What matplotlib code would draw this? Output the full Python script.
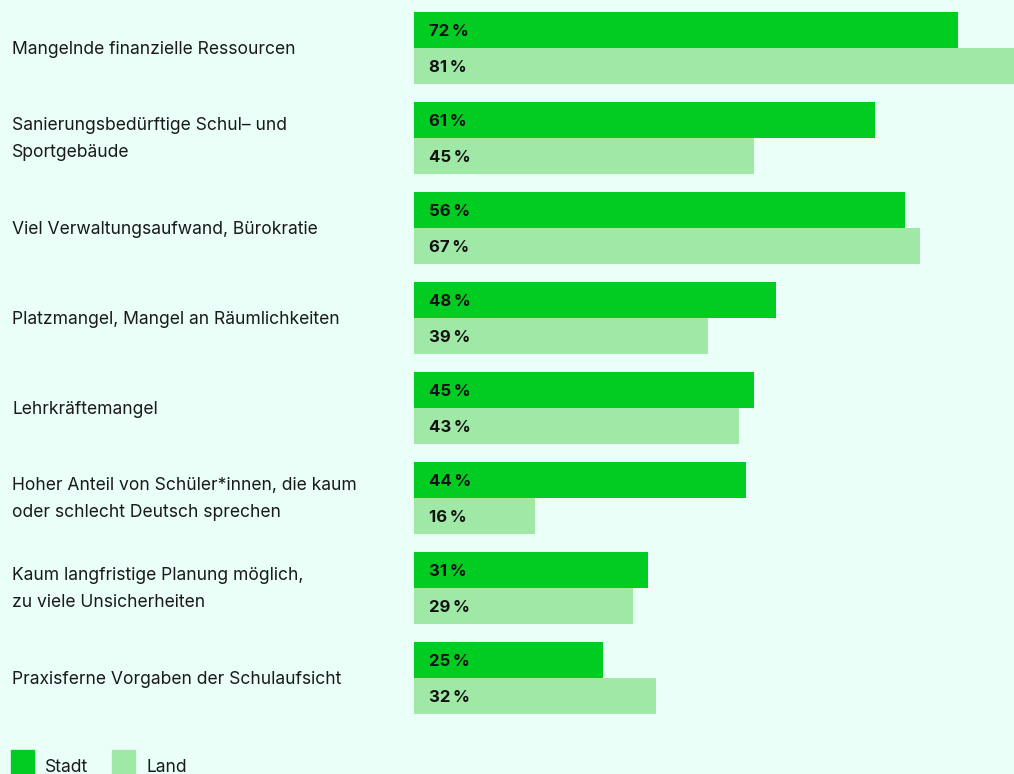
import matplotlib
matplotlib.use("Agg")
import matplotlib.pyplot as plt
from matplotlib.patches import Rectangle

categories = [
    "Mangelnde finanzielle Ressourcen",
    "Sanierungsbedürftige Schul– und\nSportgebäude",
    "Viel Verwaltungsaufwand, Bürokratie",
    "Platzmangel, Mangel an Räumlichkeiten",
    "Lehrkräftemangel",
    "Hoher Anteil von Schüler*innen, die kaum\noder schlecht Deutsch sprechen",
    "Kaum langfristige Planung möglich,\nzu viele Unsicherheiten",
    "Praxisferne Vorgaben der Schulaufsicht",
]
stadt_labels = [72, 61, 56, 48, 45, 44, 31, 25]
land_labels = [81, 45, 67, 39, 43, 16, 29, 32]
# bar lengths as drawn in the reference (the 56 % bar is drawn longer there)
stadt_bars = [72, 61, 65, 48, 45, 44, 31, 25]
land_bars = [81, 45, 67, 39, 43, 16, 29, 32]
series_names = ["Stadt", "Land"]

BG = "#EAFFF8"
C_STADT = "#00CC22"
C_LAND = "#A0E8A6"
FONT = ["Inter", "DejaVu Sans"]

W, H = 1014, 774
fig = plt.figure(figsize=(W / 100, H / 100), dpi=100, facecolor=BG)
ax = fig.add_axes([414 / W, 0, 1 - 414 / W, 1])
ax.set_facecolor(BG)
ax.set_ylim(H, 0)
ax.set_xlim(0, 600 / 7.55)
for s in ax.spines.values():
    s.set_visible(False)
ax.set_xticks([])
ax.set_yticks([])

step = 90
for i in range(len(categories)):
    yS = 30 + i * step
    yL = 66 + i * step
    ax.barh(yS, stadt_bars[i], height=36, color=C_STADT, left=0)
    ax.barh(yL, land_bars[i], height=36, color=C_LAND, left=0)
    ax.text(2.0, yS + 1.5, f"{stadt_labels[i]}\u2009%", va="center", ha="left",
            fontsize=12, fontweight="bold", color="#111111", family=FONT)
    ax.text(2.0, yL + 1.5, f"{land_labels[i]}\u2009%", va="center", ha="left",
            fontsize=12, fontweight="bold", color="#111111", family=FONT)
    fig.text(12 / W, 1 - (49 + i * step) / H, categories[i], va="center", ha="left",
             fontsize=12.6, color="#1a1a1a", family=FONT, linespacing=1.72)

# legend
for j, (name, col, x0, tx) in enumerate([(series_names[0], C_STADT, 11, 45),
                                          (series_names[1], C_LAND, 112, 146)]):
    fig.patches.append(Rectangle((x0 / W, 1 - 774 / H), 23 / W, 24 / H,
                                 transform=fig.transFigure, color=col))
    fig.text(tx / W, 1 - 767 / H, name, va="center", ha="left", fontsize=12.6,
             color="#1a1a1a", family=FONT)

fig.savefig("out.png", dpi=100, facecolor=BG)
